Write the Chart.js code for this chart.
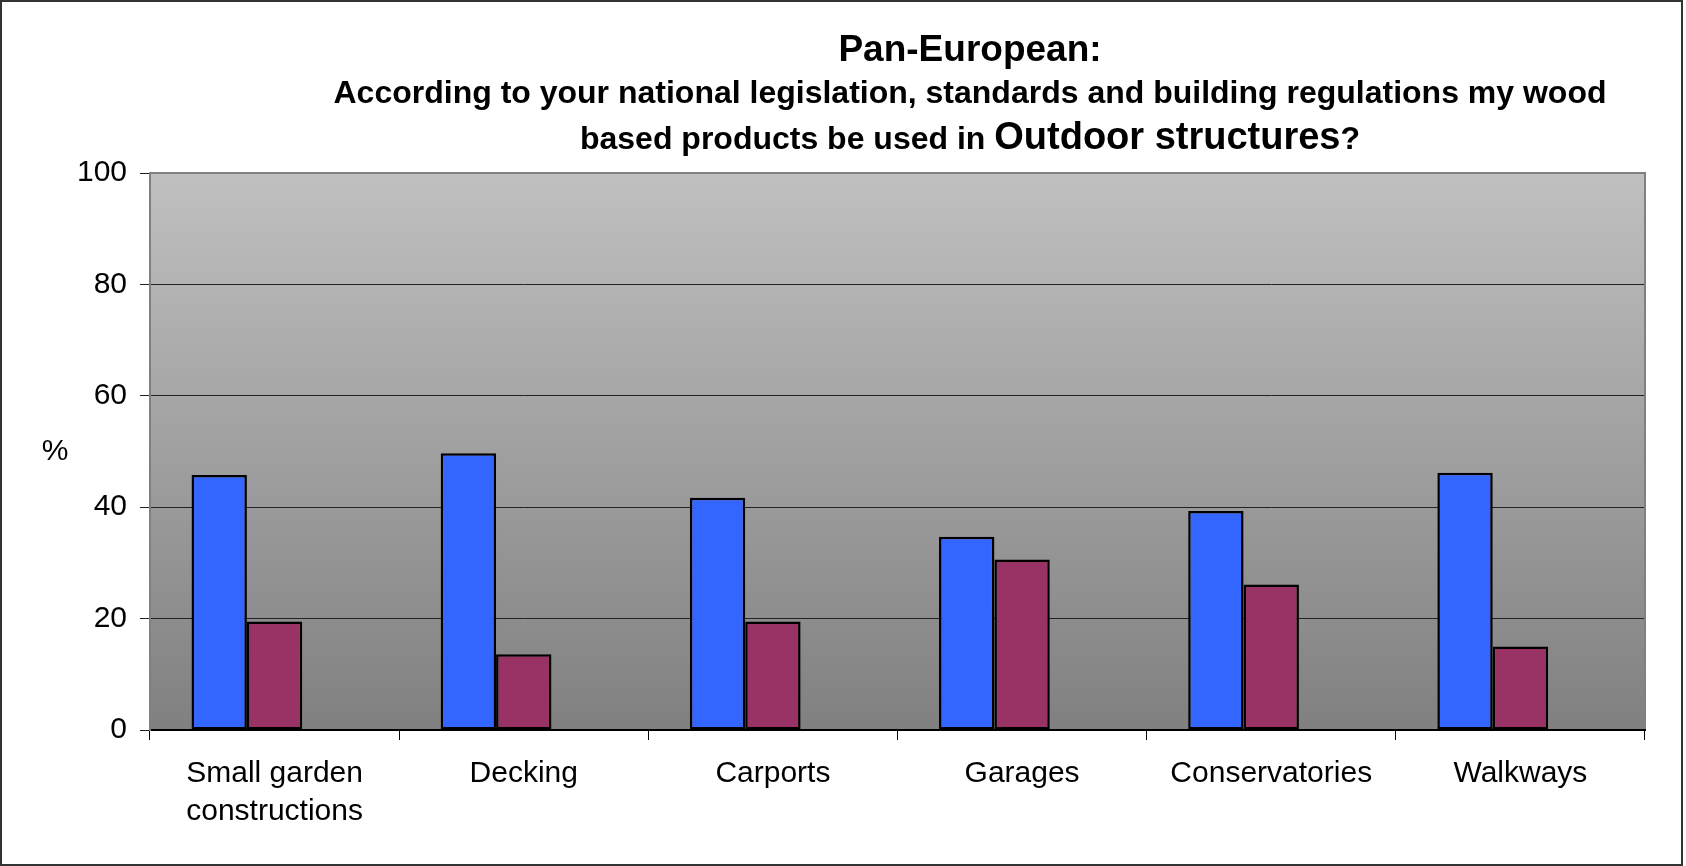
<!DOCTYPE html>
<html>
<head>
<meta charset="utf-8">
<script src="https://cdn.jsdelivr.net/npm/chart.js@4/dist/chart.umd.min.js"></script>
<style>
  html, body { margin: 0; padding: 0; background: #fff; }
  #wrap { width: 1686px; height: 866px; }
</style>
</head>
<body>
<div id="wrap"><canvas id="c" width="1686" height="866"></canvas></div>
<script>
// ---- data ----
const categories = [["Small garden", "constructions"], "Decking", "Carports", "Garages", "Conservatories", "Walkways"];
const seriesBlue = [45.8, 49.7, 41.7, 34.7, 39.3, 46.2];
const seriesMaroon = [19.5, 13.6, 19.5, 30.6, 26.1, 15.0];
const seriesEmpty = [null, null, null, null, null, null]; // third (empty) series slot in the original chart
const yTicks = [0, 20, 40, 60, 80, 100];
const titleLine1 = "Pan-European:";
const titleLine2 = "According to your national legislation, standards and building regulations my wood";
const titleLine3a = "based products be used in ";
const titleLine3b = "Outdoor structures";
const titleLine3c = "?";
const yAxisLabel = "%";

const FONT = "'Liberation Sans', Arial, sans-serif";

const decorPlugin = {
  id: 'decor',
  beforeDraw(chart) {
    const ctx = chart.ctx;
    const a = chart.chartArea;
    ctx.save();
    ctx.fillStyle = '#ffffff';
    ctx.fillRect(0, 0, chart.width, chart.height);
    ctx.strokeStyle = '#333333';
    ctx.lineWidth = 2;
    ctx.strokeRect(1, 1, 1681, 864);
    const g = ctx.createLinearGradient(0, a.top, 0, a.bottom);
    g.addColorStop(0, '#c0c0c0');
    g.addColorStop(1, '#808080');
    ctx.fillStyle = g;
    ctx.fillRect(a.left, a.top, a.right - a.left, a.bottom - a.top);
    ctx.restore();
  },
  afterDraw(chart) {
    const ctx = chart.ctx;
    const a = chart.chartArea;
    ctx.save();
    ctx.strokeStyle = '#808080';
    ctx.lineWidth = 2;
    ctx.beginPath();
    ctx.moveTo(a.left, a.bottom - 1);
    ctx.lineTo(a.left, a.top);
    ctx.lineTo(a.right, a.top);
    ctx.lineTo(a.right, a.bottom - 1);
    ctx.stroke();
    ctx.fillStyle = '#000';
    ctx.textBaseline = 'alphabetic';
    ctx.textAlign = 'center';
    const cx = 970;
    ctx.font = 'bold 37px ' + FONT;
    ctx.fillText(titleLine1, cx, 61);
    ctx.font = 'bold 32px ' + FONT;
    ctx.fillText(titleLine2, cx, 103);
    const fA = 'bold 32px ' + FONT, fB = 'bold 38px ' + FONT;
    ctx.font = fA; const wA = ctx.measureText(titleLine3a).width; const wC = ctx.measureText(titleLine3c).width;
    ctx.font = fB; const wB = ctx.measureText(titleLine3b).width;
    let x = cx - (wA + wB + wC) / 2;
    ctx.textAlign = 'left';
    ctx.font = fA; ctx.fillText(titleLine3a, x, 149); x += wA;
    ctx.font = fB; ctx.fillText(titleLine3b, x, 149); x += wB;
    ctx.font = fA; ctx.fillText(titleLine3c, x, 149);
    ctx.font = '30px ' + FONT;
    ctx.textAlign = 'center';
    ctx.textBaseline = 'middle';
    ctx.fillText(yAxisLabel, 55, 452);
    ctx.restore();
  }
};

new Chart(document.getElementById('c'), {
  type: 'bar',
  data: {
    labels: categories,
    datasets: [
      { data: seriesBlue, backgroundColor: '#3366ff', borderColor: '#000', borderWidth: 2.5, borderSkipped: false },
      { data: seriesMaroon, backgroundColor: '#993366', borderColor: '#000', borderWidth: 2.5, borderSkipped: false },
      { data: seriesEmpty, backgroundColor: '#ffffcc', borderColor: '#000', borderWidth: 2.5, borderSkipped: false }
    ]
  },
  options: {
    responsive: false,
    animation: false,
    devicePixelRatio: 1,
    layout: { padding: { top: 173, right: 41, left: 0, bottom: 0 } },
    datasets: { bar: { categoryPercentage: 3 / 4.5, barPercentage: 1.0 } },
    plugins: { legend: { display: false }, tooltip: { enabled: false }, title: { display: false } },
    scales: {
      x: {
        afterFit(s) { s.height = 136; },
        grid: { display: true, drawOnChartArea: false, drawTicks: true, tickLength: 10, color: '#000', lineWidth: 1, offset: true },
        border: { display: true, color: '#000', width: 2 },
        ticks: { color: '#000', font: { family: FONT, size: 30, lineHeight: 1.27 }, padding: 15, maxRotation: 0, autoSkip: false }
      },
      y: {
        min: 0, max: 100,
        afterFit(s) { s.width = 150; },
        afterBuildTicks(s) { s.ticks = yTicks.map(v => ({ value: v })); },
        grid: { color: '#222', lineWidth: 1, drawTicks: true, tickLength: 10 },
        border: { display: true, color: '#808080', width: 2 },
        ticks: { color: '#000', font: { family: FONT, size: 30 }, padding: 13 }
      }
    }
  },
  plugins: [decorPlugin]
});
</script>
</body>
</html>
